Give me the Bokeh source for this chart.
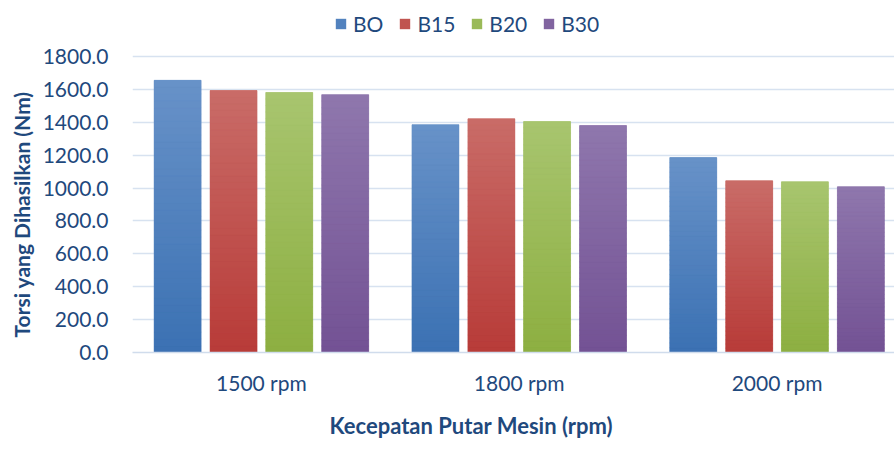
from bokeh.plotting import figure
from bokeh.models import (Range1d, FixedTicker, NumeralTickFormatter, Legend,
                          LegendItem, Title, ColumnDataSource)
from bokeh.embed import file_html
from bokeh.resources import INLINE

# Engine speed categories and torque per fuel blend
categories = ["1500 rpm", "1800 rpm", "2000 rpm"]
series_names = ["BO", "B15", "B20", "B30"]
bo = [1655, 1385, 1185]
b15 = [1593, 1421, 1044]
b20 = [1581, 1404, 1038]
b30 = [1568, 1380, 1008]
y_ticks = [0, 200, 400, 600, 800, 1000, 1200, 1400, 1600, 1800]

series_values = [bo, b15, b20, b30]
# (top colour, bottom colour) of each series' vertical gradient
gradients = [("#6892C8", "#3B71B3"),
             ("#C96C68", "#B83B38"),
             ("#A8C56F", "#8DAF41"),
             ("#8F77AD", "#735294")]

TEXT = "#1F497D"
FONT = "Lato"

# the frame reaches above the last gridline so the legend can sit inside it
p = figure(width=894, height=450, output_backend="svg", toolbar_location=None,
           x_range=Range1d(0, 2.9555), y_range=Range1d(0, 2110),
           min_border_left=130, min_border_right=0, min_border_top=5,
           min_border_bottom=98)
p.outline_line_color = None
p.background_fill_color = "white"
p.border_fill_color = "white"


def hex_rgb(h):
    h = h.lstrip("#")
    return tuple(int(h[i:i + 2], 16) for i in (0, 2, 4))


def mix(c_bot, c_top, t):
    a, b = hex_rgb(c_bot), hex_rgb(c_top)
    return "#%02x%02x%02x" % tuple(round(a[i] + (b[i] - a[i]) * t) for i in range(3))


bar_w = 0.182
offsets = [-0.325, -0.108, 0.108, 0.325]
cat_x = [i + 0.5 for i in range(len(categories))]
steps = 40

legend_items = []
for name, vals, (c_top, c_bot), off in zip(series_names, series_values, gradients, offsets):
    xs = [c + off for c in cat_x]
    base = p.vbar(x=xs, top=vals, width=bar_w, fill_color=mix(c_bot, c_top, 0.5),
                  line_color=None)
    legend_items.append(LegendItem(label=name, renderers=[base]))
    left, right, bottom, top, color = [], [], [], [], []
    for x, v in zip(xs, vals):
        for k in range(steps):
            left.append(x - bar_w / 2)
            right.append(x + bar_w / 2)
            bottom.append(v * k / steps)
            top.append(v * (k + 1) / steps)
            color.append(mix(c_bot, c_top, (k + 0.5) / steps))
    src = ColumnDataSource(dict(left=left, right=right, bottom=bottom, top=top, color=color))
    p.quad(left="left", right="right", bottom="bottom", top="top", source=src,
           fill_color="color", line_color="color", line_width=0.6)

# Axes
p.xaxis.ticker = FixedTicker(ticks=cat_x)
p.xaxis.major_label_overrides = {c: lab for c, lab in zip(cat_x, categories)}
p.yaxis.ticker = FixedTicker(ticks=y_ticks)
p.yaxis.formatter = NumeralTickFormatter(format="0.0")
for ax in (p.xaxis, p.yaxis):
    ax.major_tick_line_color = None
    ax.minor_tick_line_color = None
    ax.major_label_text_color = TEXT
    ax.major_label_text_font = FONT
    ax.major_label_text_font_size = "21px"
p.yaxis.axis_line_color = None
p.yaxis.major_label_standoff = 18
p.xaxis.axis_line_color = "#D0DCEC"
p.xaxis.axis_line_width = 1.5
p.xaxis.major_label_standoff = 11

p.xgrid.grid_line_color = None
p.ygrid.grid_line_color = "#D7E2F0"
p.ygrid.grid_line_width = 1.5

ytitle = Title(text="Torsi yang Dihasilkan (Nm)", align="left", offset=15,
               text_font=FONT, text_font_style="bold", text_font_size="21px",
               text_color=TEXT, standoff=12)
p.add_layout(ytitle, "left")

xtitle = Title(text="Kecepatan Putar Mesin (rpm)", align="left", offset=197,
               text_font=FONT, text_font_style="bold", text_font_size="22px",
               text_color=TEXT, standoff=24)
p.add_layout(xtitle, "below")

legend = Legend(items=legend_items, orientation="horizontal", location=(202, 316),
                glyph_width=13, glyph_height=13, label_standoff=6, spacing=15,
                padding=0, margin=0, border_line_color=None, background_fill_alpha=0,
                label_text_font=FONT, label_text_font_size="21px",
                label_text_color=TEXT)
p.add_layout(legend)

open("out.html", "w").write(file_html(p, INLINE))
